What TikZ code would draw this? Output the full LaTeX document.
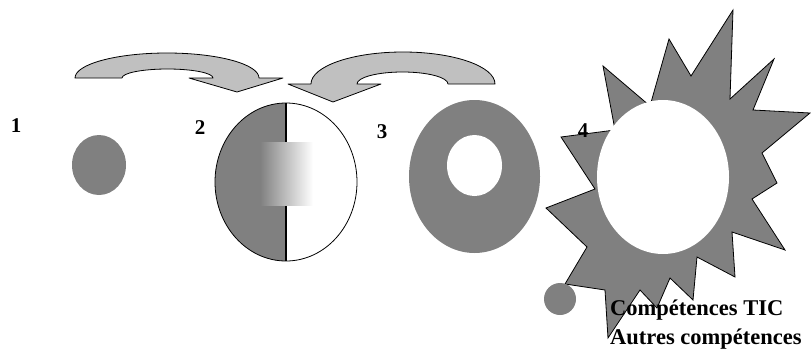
\documentclass[tikz,border=0pt]{standalone}
\usepackage{fontspec}
\setmainfont{Liberation Serif}
\definecolor{midgray}{RGB}{128,128,128}
\definecolor{arrowgray}{RGB}{192,192,192}
\begin{document}
\begin{tikzpicture}[x=1pt,y=-1pt,
  arrowshape/.style={fill=arrowgray,draw=black,line width=0.8pt,line join=round},
  lbl/.style={font=\bfseries\fontsize{21}{21}\selectfont,inner sep=0pt,anchor=base},
  txt/.style={font=\bfseries\fontsize{22.5}{22.5}\selectfont,inner sep=0pt,anchor=base west},
  outline/.style={draw=black,line width=0.8pt}]
\useasboundingbox (0,0) rectangle (811,351);

% curved arrows
\draw[arrowshape] (75,78) arc[start angle=180,end angle=360,x radius=92,y radius=25]
  -- (283,78) -- (237,92) -- (189,78) -- (213,78)
  arc[start angle=0,end angle=-180,x radius=45.5,y radius=9] -- cycle;
\draw[arrowshape] (495,84) arc[start angle=0,end angle=-180,x radius=92,y radius=32]
  -- (288,84) -- (333,102) -- (381,84) -- (357,84)
  arc[start angle=180,end angle=360,x radius=45.5,y radius=12] -- cycle;

% 1
\fill[midgray] (99,165) ellipse[x radius=27,y radius=30];

% 2
\begin{scope}
  \clip (200,90) rectangle (286,270);
  \fill[midgray] (286,182) ellipse[x radius=71,y radius=79];
\end{scope}
\draw[outline] (286,182) ellipse[x radius=71,y radius=79];
\draw[line width=1.6pt] (286,103) -- (286,261);
\shade[left color=midgray,right color=white] (260,142) rectangle (313,205);

% 3
\fill[midgray] (474.5,176.5) ellipse[x radius=65.5,y radius=76.5];
\fill[white] (474.5,165.5) ellipse[x radius=27.5,y radius=30.5];

% 4 star
\draw[outline,fill=midgray,line join=miter]
  (561,137) -- (615,130) -- (603,66) -- (650,106) -- (669,39) -- (691,76)
  -- (733,10) -- (730,99) -- (774,59) -- (753,110) -- (810,113) -- (762,153)
  -- (777,183) -- (752,199) -- (785,250) -- (732,232) -- (735,277) -- (697,257)
  -- (693,300) -- (670,278) -- (657,308) -- (640,290) -- (608,338) -- (605,290)
  -- (565,284) -- (587,247) -- (546,208) -- (595,189) -- cycle;
\fill[white] (663,177) ellipse[x radius=66,y radius=77];
\fill[midgray] (560,299) circle[radius=16];

% labels
\node[lbl] (n1) at (16,132) {1};
\node[lbl] (n2) at (200,134) {2};
\node[lbl] (n3) at (382,138) {3};
\node[lbl] (n4) at (583,137) {4};
\node[txt] (tic) at (610,315) {Compétences TIC};
\node[txt] (autres) at (610,344) {Autres compétences};
\end{tikzpicture}
\end{document}
